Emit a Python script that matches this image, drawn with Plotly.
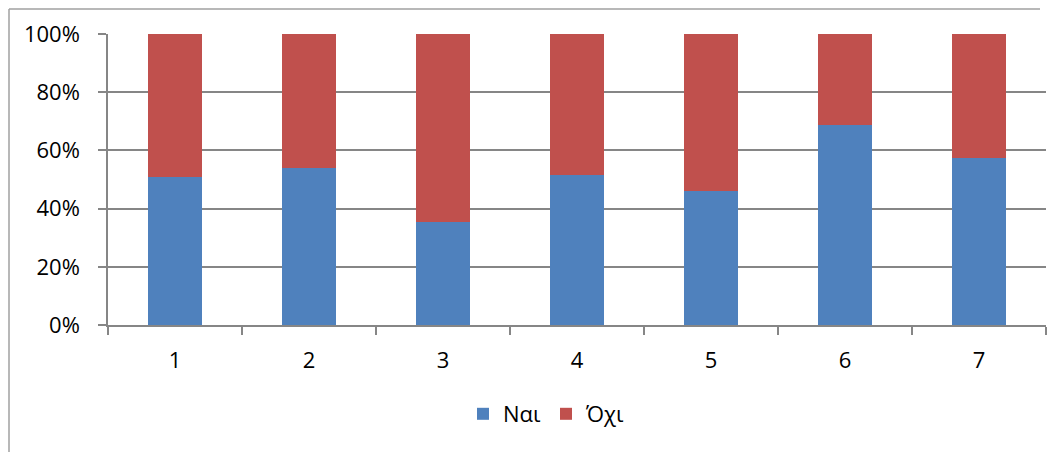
import plotly.graph_objects as go

categories = ["1", "2", "3", "4", "5", "6", "7"]
nai = [50.8, 54.1, 35.3, 51.5, 46.2, 68.6, 57.5]
ochi = [100 - v for v in nai]
tick_vals = [0, 20, 40, 60, 80, 100]
tick_text = ["0%", "20%", "40%", "60%", "80%", "100%"]

FONT = "Open Sans"
W, H = 1062, 452
L, R, T, B = 100, 24, 26, 135
PW, PH = W - L - R, H - T - B

fig = go.Figure()
fig.add_trace(go.Bar(x=categories, y=nai, name="Ναι", marker=dict(color="#4F81BD", line=dict(width=0))))
fig.add_trace(go.Bar(x=categories, y=ochi, name="Όχι", marker=dict(color="#C0504D", line=dict(width=0))))

fig.update_layout(
    width=W, height=H,
    margin=dict(l=L, r=R, t=T, b=B, autoexpand=False),
    barmode="stack", bargap=0.6,
    plot_bgcolor="white", paper_bgcolor="white",
    font=dict(family=FONT, size=22, color="black"),
    showlegend=True,
    legend=dict(orientation="h", traceorder="normal", x=0.468, xanchor="center",
                yref="container", y=1 - 406 / H, yanchor="middle",
                font=dict(size=22), itemwidth=30, tracegroupgap=0),
    xaxis=dict(type="category", automargin=False, showgrid=False, showline=True, linecolor="#868686",
               linewidth=1.5, ticks="outside", tickson="boundaries", ticklen=8, tickcolor="#868686",
               tickwidth=1.5, ticklabelstandoff=15),
    yaxis=dict(range=[0, 100], automargin=False, tickvals=tick_vals, ticktext=tick_text, showgrid=True,
               gridcolor="#868686", gridwidth=1.5, showline=True, linecolor="#868686", linewidth=1.5,
               ticks="outside", ticklen=8, tickcolor="#868686", tickwidth=1.5, ticklabelstandoff=14,
               zeroline=False),
    shapes=[
        dict(type="line", xref="paper", yref="paper", x0=(-L + 1) / PW, x1=(1032 - L) / PW,
             y0=(PH + T - 1) / PH, y1=(PH + T - 1) / PH, line=dict(color="#A0A0A0", width=1.5)),
        dict(type="line", xref="paper", yref="paper", x0=(-L + 1) / PW, x1=(-L + 1) / PW,
             y0=(PH + T - 1) / PH, y1=-B / PH, line=dict(color="#A0A0A0", width=1.5)),
    ],
)
fig.write_html("out.html")
